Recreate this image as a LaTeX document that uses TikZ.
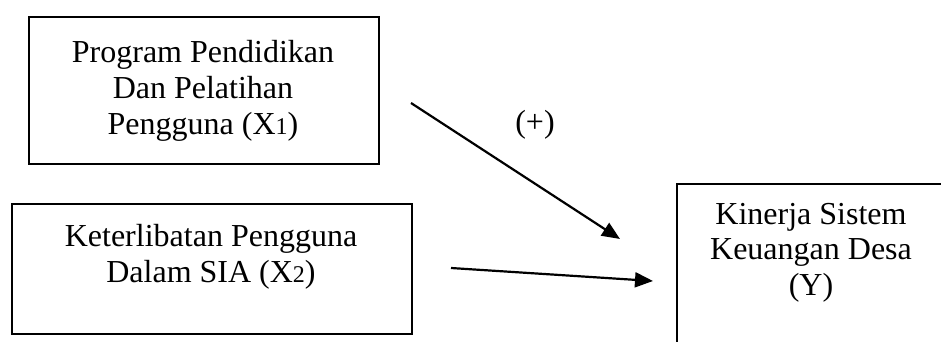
\documentclass[tikz,border=0pt]{standalone}
\usepackage{fontspec}
\setmainfont{Liberation Serif}
\usetikzlibrary{arrows.meta}
\newcommand{\smalldigit}[1]{{\fontsize{24}{24}\selectfont #1}}
\begin{document}
\begin{tikzpicture}[x=1pt,y=-1pt,
  box/.style={draw,line width=1.6pt,inner sep=0pt,anchor=north west},
  lbl/.style={align=center,inner sep=0pt,font=\fontsize{32}{35.5}\selectfont,anchor=base},
  arr/.style={line width=2.2pt,-{Triangle[length=18pt,width=15pt]}}]
\useasboundingbox (0,0) rectangle (941,342);
\clip (0,0) rectangle (941,342);
% boxes
\node[box,minimum width=350pt,minimum height=147pt] (b1) at (28,16) {};
\node[box,minimum width=400pt,minimum height=130pt] (b2) at (11,203) {};
\node[box,minimum width=300pt,minimum height=200pt] (by) at (676,183) {};
% texts
\node[lbl] (t1) at (203,134) {Program Pendidikan\\Dan Pelatihan\\Pengguna (X\smalldigit{1})};
\node[lbl] (t2) at (211,282) {Keterlibatan Pengguna\\Dalam SIA (X\smalldigit{2})};
\node[lbl] (ty) at (811,295) {Kinerja Sistem\\Keuangan Desa\\(Y)};
\node[lbl] (plus) at (535,132) {(+)};
% arrows
\coordinate (a1s) at (411,103);
\coordinate (a1e) at (620,239);
\coordinate (a2s) at (451,268);
\coordinate (a2e) at (653,281);
\draw[arr] (a1s) -- (a1e);
\draw[arr] (a2s) -- (a2e);
\end{tikzpicture}
\end{document}
